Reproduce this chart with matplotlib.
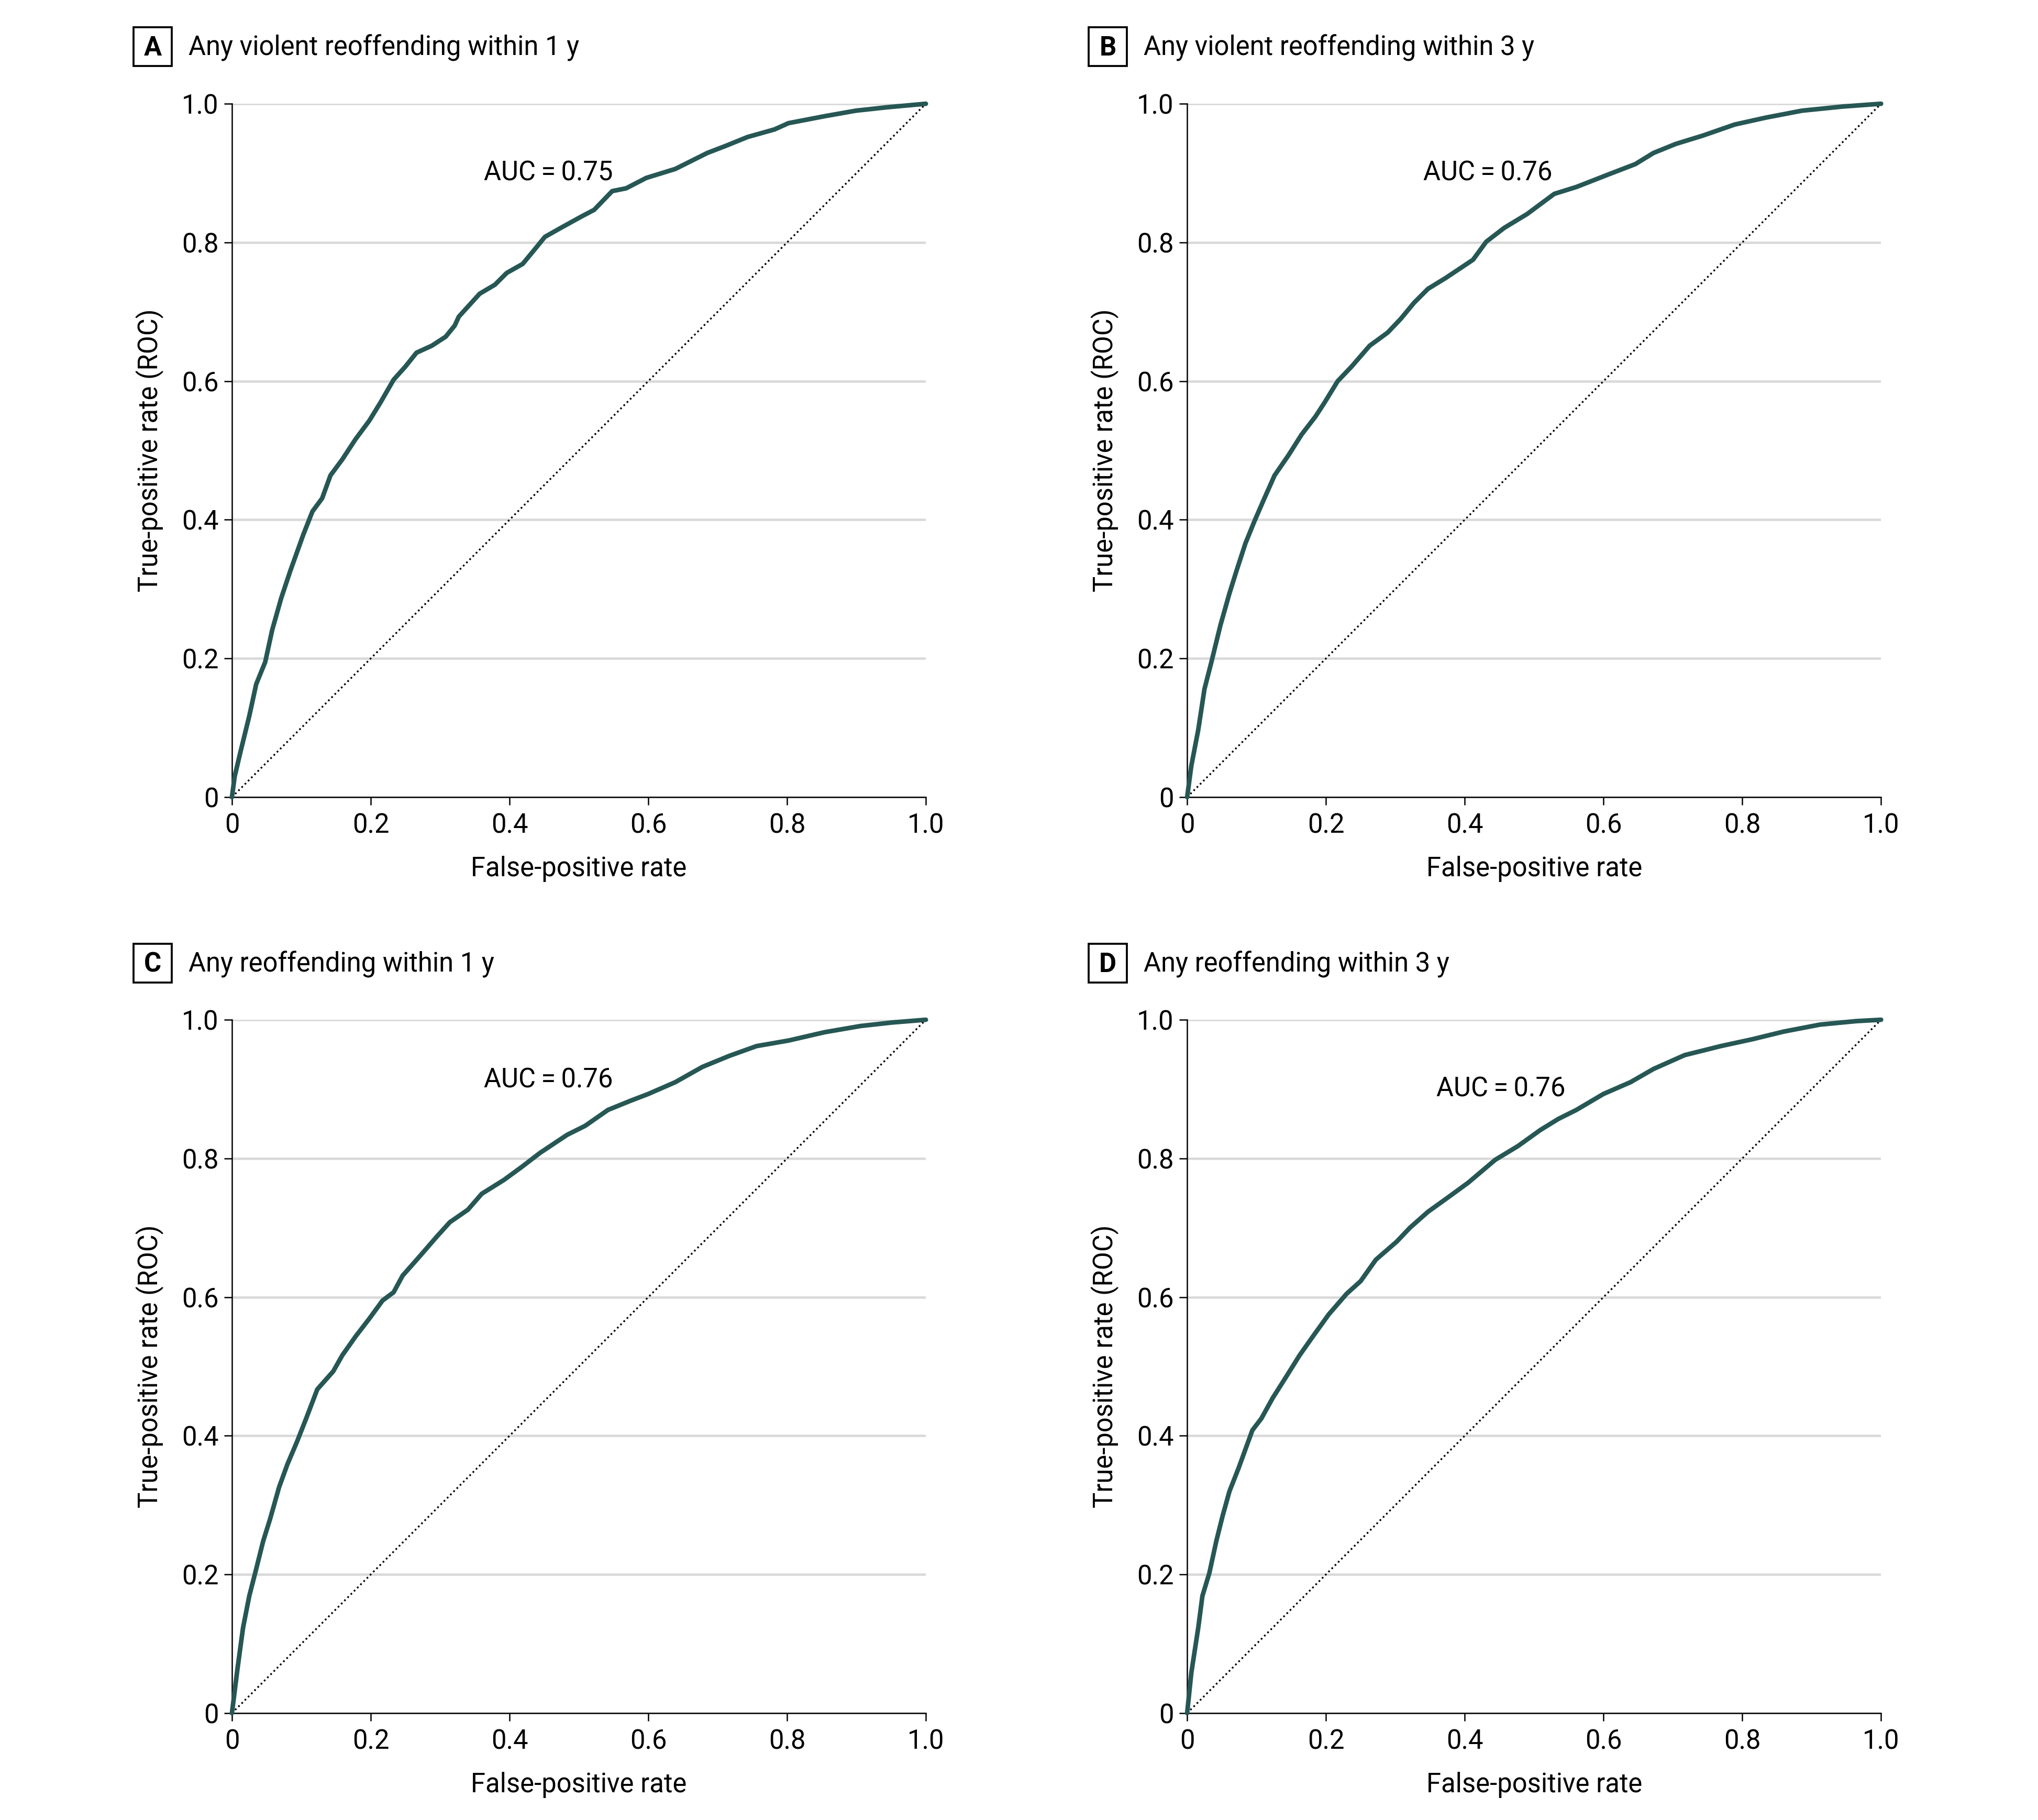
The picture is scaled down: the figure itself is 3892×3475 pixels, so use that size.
import matplotlib
matplotlib.use('Agg')
import matplotlib.pyplot as plt
from matplotlib.patches import Rectangle

# ROC curves (false-positive rate, true-positive rate)
fpr_a = [0, 0.004, 0.012, 0.025, 0.035, 0.048, 0.058, 0.071, 0.084, 0.103, 0.116, 0.13, 0.142,
         0.159, 0.178, 0.198, 0.214, 0.233, 0.25, 0.266, 0.288, 0.308, 0.321, 0.327, 0.357, 0.379,
         0.396, 0.419, 0.438, 0.451, 0.474, 0.503, 0.522, 0.548, 0.568, 0.597, 0.639, 0.685, 0.711,
         0.743, 0.782, 0.802, 0.854, 0.899, 0.945, 1.0]
tpr_a = [0, 0.03, 0.064, 0.117, 0.163, 0.195, 0.241, 0.287, 0.326, 0.379, 0.412, 0.431, 0.464,
         0.487, 0.516, 0.543, 0.569, 0.602, 0.621, 0.641, 0.651, 0.664, 0.68, 0.693, 0.726, 0.739,
         0.756, 0.769, 0.792, 0.808, 0.821, 0.837, 0.847, 0.874, 0.878, 0.893, 0.906, 0.929, 0.939,
         0.952, 0.963, 0.972, 0.982, 0.99, 0.995, 1.0]

fpr_b = [0, 0.006, 0.016, 0.025, 0.035, 0.048, 0.061, 0.071, 0.084, 0.097, 0.11, 0.126, 0.146,
         0.165, 0.185, 0.198, 0.217, 0.237, 0.263, 0.289, 0.308, 0.327, 0.347, 0.373, 0.412, 0.431,
         0.457, 0.49, 0.529, 0.561, 0.607, 0.646, 0.672, 0.704, 0.743, 0.789, 0.834, 0.886, 0.945, 1.0]
tpr_b = [0, 0.045, 0.097, 0.156, 0.195, 0.248, 0.294, 0.326, 0.366, 0.398, 0.428, 0.464, 0.493,
         0.523, 0.549, 0.569, 0.6, 0.621, 0.651, 0.67, 0.69, 0.713, 0.733, 0.749, 0.775, 0.801,
         0.821, 0.841, 0.87, 0.88, 0.898, 0.913, 0.929, 0.942, 0.954, 0.97, 0.98, 0.99, 0.996, 1.0]

fpr_c = [0, 0.008, 0.016, 0.025, 0.035, 0.045, 0.055, 0.068, 0.08, 0.094, 0.107, 0.123, 0.146,
         0.159, 0.178, 0.198, 0.217, 0.233, 0.246, 0.269, 0.295, 0.314, 0.34, 0.36, 0.392, 0.418,
         0.444, 0.483, 0.509, 0.542, 0.574, 0.6, 0.639, 0.678, 0.717, 0.756, 0.802, 0.854, 0.906,
         0.951, 1.0]
tpr_c = [0, 0.064, 0.123, 0.169, 0.208, 0.248, 0.28, 0.326, 0.359, 0.392, 0.425, 0.467, 0.493,
         0.516, 0.543, 0.569, 0.595, 0.607, 0.631, 0.657, 0.687, 0.708, 0.726, 0.749, 0.769, 0.788,
         0.808, 0.834, 0.847, 0.87, 0.883, 0.893, 0.91, 0.932, 0.948, 0.962, 0.97, 0.982, 0.991,
         0.996, 1.0]

fpr_d = [0, 0.006, 0.016, 0.022, 0.032, 0.042, 0.051, 0.061, 0.074, 0.094, 0.107, 0.123, 0.142,
         0.162, 0.181, 0.204, 0.23, 0.25, 0.272, 0.302, 0.321, 0.347, 0.379, 0.405, 0.444, 0.477,
         0.509, 0.535, 0.561, 0.6, 0.639, 0.672, 0.717, 0.769, 0.815, 0.86, 0.912, 0.964, 1.0]
tpr_d = [0, 0.058, 0.123, 0.169, 0.202, 0.248, 0.284, 0.32, 0.353, 0.408, 0.425, 0.454, 0.484,
         0.516, 0.543, 0.575, 0.605, 0.623, 0.654, 0.68, 0.7, 0.723, 0.746, 0.765, 0.798, 0.818,
         0.841, 0.857, 0.87, 0.893, 0.91, 0.929, 0.949, 0.962, 0.972, 0.983, 0.993, 0.998, 1.0]

letters = ['A', 'B', 'C', 'D']
titles = ['Any violent reoffending within 1 y', 'Any violent reoffending within 3 y',
          'Any reoffending within 1 y', 'Any reoffending within 3 y']
auc_text = ['AUC\u2009=\u20090.75', 'AUC\u2009=\u20090.76', 'AUC\u2009=\u20090.76', 'AUC\u2009=\u20090.76']
ticks = [0, 0.2, 0.4, 0.6, 0.8, 1.0]
tick_labels = ['0', '0.2', '0.4', '0.6', '0.8', '1.0']

curves = [(fpr_a, tpr_a), (fpr_b, tpr_b), (fpr_c, tpr_c), (fpr_d, tpr_d)]

plt.rcParams['font.family'] = ['Roboto', 'DejaVu Sans']
fs = 12.2
line_col = '#265754'

fig = plt.figure(figsize=(3892 / 300, 3475 / 300), dpi=300)

# axes rectangles in figure fraction, and the AUC label spot in data units
boxes = [[0.1138, 0.5620, 0.3405, 0.3810], [0.5825, 0.5620, 0.3405, 0.3810],
         [0.1138, 0.0587, 0.3405, 0.3810], [0.5825, 0.0587, 0.3405, 0.3810]]
auc_xy = [(0.363, 0.90), (0.340, 0.90), (0.363, 0.913), (0.359, 0.90)]
dx = [0, 0.4687, 0, 0.4687]
dy = [0, 0, 0.5036, 0.5036]

for i, (fpr, tpr) in enumerate(curves):
    ax = fig.add_axes(boxes[i])
    ax.set_axisbelow(True)
    ax.yaxis.grid(True, color='#d9d9d9', lw=1.1)
    ax.plot([0, 1], [0, 1], color='black', lw=0.8, ls=(0, (1, 1.6)), zorder=2)
    ax.plot(fpr, tpr, color=line_col, lw=2.1, solid_joinstyle='round',
            solid_capstyle='round', clip_on=False, zorder=3)
    ax.set_xlim(0, 1)
    ax.set_ylim(0, 1)
    ax.set_xticks(ticks)
    ax.set_xticklabels(tick_labels)
    ax.set_yticks(ticks)
    ax.set_yticklabels(tick_labels)
    for s in ['top', 'right']:
        ax.spines[s].set_visible(False)
    for s in ['left', 'bottom']:
        ax.spines[s].set_linewidth(0.6)
    ax.tick_params(direction='out', length=3.6, width=0.6, labelsize=fs, pad=2.5)
    ax.tick_params(axis='x', pad=3.5)
    ax.set_xlabel('False-positive rate', fontsize=fs)
    ax.set_ylabel('True-positive rate (ROC)', fontsize=fs)
    ax.xaxis.set_label_coords(0.5, -0.1035)
    ax.xaxis.label.set_verticalalignment('center')
    ax.yaxis.set_label_coords(-0.1185, 0.5)
    ax.yaxis.label.set_verticalalignment('center')
    ax.text(auc_xy[i][0], auc_xy[i][1], auc_text[i], fontsize=fs, ha='left', va='center')

    # panel letter in a box, then the panel title
    fig.patches.append(Rectangle((0.0655 + dx[i], 0.9637 - dy[i]), 0.01876, 0.0213,
                                 transform=fig.transFigure, fill=False, ec='black', lw=0.9))
    fig.text(0.0749 + dx[i], 0.9695 - dy[i], letters[i], fontsize=fs, fontweight='bold',
             ha='center', va='baseline')
    fig.text(0.0925 + dx[i], 0.9695 - dy[i], titles[i], fontsize=fs, ha='left', va='baseline')

fig.savefig('out.png', dpi=300, facecolor='white')
